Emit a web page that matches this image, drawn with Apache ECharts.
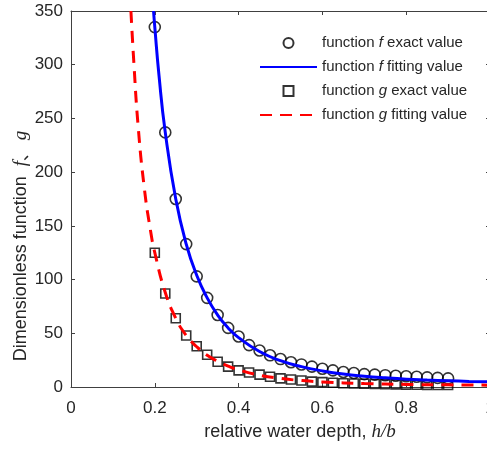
<!DOCTYPE html>
<html>
<head>
<meta charset="utf-8">
<title>f, g vs relative water depth</title>
<script src="https://cdn.jsdelivr.net/npm/echarts@6/dist/echarts.min.js"></script>
<style>
    html, body { margin: 0; padding: 0; background: #fff; }
    #chart { width: 487px; height: 449px; }
</style>
</head>
<body>
<div id="chart"></div>
<script>
    // exact values, h/b = 0.2 ... 0.9 step 0.025
    var xExact = [0.2, 0.225, 0.25, 0.275, 0.3, 0.325, 0.35, 0.375, 0.4, 0.425,
        0.45, 0.475, 0.5, 0.525, 0.55, 0.575, 0.6, 0.625, 0.65, 0.675,
        0.7, 0.725, 0.75, 0.775, 0.8, 0.825, 0.85, 0.875, 0.9];
    var fExact = [335, 237, 175, 133, 103, 83, 67, 55, 47, 39,
        34, 29.5, 26, 23, 21, 19, 17, 15.5, 14, 13,
        12, 11.5, 11, 10.5, 10, 9.5, 9, 8.5, 8];
    var gExact = [125, 87, 64, 48, 38, 30, 23.5, 19, 15.5, 13.5,
        11.5, 9.5, 8, 7, 6, 5, 4.5, 4, 3.5, 3.2,
        3, 2.8, 2.6, 2.4, 2.2, 2.1, 2, 1.9, 1.8];

    // fitted curves
    var xFitF = [0.197, 0.2, 0.21, 0.225, 0.25, 0.275, 0.3, 0.325, 0.35, 0.375,
        0.4, 0.45, 0.5, 0.55, 0.6, 0.65, 0.7, 0.75, 0.8, 0.85,
        0.9, 0.95, 1.0];
    var fFit = [350, 335, 290, 237, 175, 133, 104, 83, 67, 55,
        46, 33, 24.5, 19, 15, 12, 10, 8.5, 7.3, 6.5,
        5.8, 5.2, 4.8];
    var xFitG = [0.143, 0.15, 0.16, 0.175, 0.19, 0.2, 0.225, 0.25, 0.275, 0.3,
        0.325, 0.35, 0.375, 0.4, 0.45, 0.5, 0.55, 0.6, 0.7, 0.8,
        0.9, 1.0];
    var gFit = [350, 302, 244, 185, 145, 125, 88, 64, 48, 37.5,
        29.5, 24, 19.5, 16, 11, 8, 6, 4.7, 3.2, 2.4,
        2, 1.7];

    var legendNames = ['fExact', 'fFit', 'gExact', 'gFit'];
    var legendLabels = {
        fExact: '{a|function }{i|f}{a| exact value}',
        fFit: '{a|function }{i|f}{a| fitting value}',
        gExact: '{a|function }{i|g}{a| exact value}',
        gFit: '{a|function }{i|g}{a| fitting value}'
    };

    function pairs(xs, ys) {
        return xs.map(function (x, i) { return [x, ys[i]]; });
    }

    var TEXT = '#262626';
    var AXIS = '#404040';
    var FONT = 'Liberation Sans, Arial, sans-serif';
    var SERIF = 'Liberation Serif, Times New Roman, serif';

    var chart = echarts.init(document.getElementById('chart'));

    var axisCommon = {
        axisLine: { show: true, onZero: false, lineStyle: { color: AXIS, width: 1 } },
        axisTick: { show: true, inside: true, length: 4, lineStyle: { color: AXIS } },
        splitLine: { show: false }
    };

    chart.setOption({
        animation: false,
        backgroundColor: '#fff',
        grid: { left: 71, right: -3, top: 11, bottom: 62, containLabel: false, outerBoundsMode: 'none' },
        xAxis: [
            Object.assign({
                type: 'value', min: 0, max: 1, interval: 0.2, position: 'bottom',
                axisLabel: { color: TEXT, fontSize: 17, fontFamily: FONT, margin: 13 }
            }, axisCommon),
            Object.assign({
                type: 'value', min: 0, max: 1, interval: 0.2, position: 'top',
                axisLabel: { show: false }
            }, axisCommon)
        ],
        yAxis: [
            Object.assign({
                type: 'value', min: 0, max: 350, interval: 50, position: 'left',
                axisLabel: { color: TEXT, fontSize: 17, fontFamily: FONT, margin: 8 }
            }, axisCommon),
            Object.assign({
                type: 'value', min: 0, max: 350, interval: 50, position: 'right',
                axisLabel: { show: false }
            }, axisCommon)
        ],
        legend: {
            data: [
                { name: 'fExact', icon: 'circle' },
                { name: 'fFit', itemStyle: { opacity: 0 } },
                { name: 'gExact', icon: 'path://M0,0H10V10H0Z' },
                { name: 'gFit', itemStyle: { opacity: 0 } }
            ],
            orient: 'vertical',
            left: 259,
            top: 31,
            padding: 0,
            itemWidth: 57,
            itemHeight: 10,
            itemGap: 0,
            symbolKeepAspect: true,
            formatter: function (name) { return legendLabels[name]; },
            textStyle: {
                color: TEXT,
                lineHeight: 24,
                rich: {
                    a: { fontSize: 15, fontFamily: FONT, color: TEXT, lineHeight: 24 },
                    i: { fontSize: 15, fontFamily: FONT, fontStyle: 'italic', color: TEXT, lineHeight: 24 }
                }
            }
        },
        graphic: [
            {
                type: 'text',
                x: 300, y: 432,
                style: {
                    text: '{a|relative water depth, }{i|h/b}',
                    align: 'center',
                    verticalAlign: 'middle',
                    rich: {
                        a: { fontSize: 18, fontFamily: FONT, fill: TEXT },
                        i: { fontSize: 19, fontFamily: SERIF, fontStyle: 'italic', fill: TEXT }
                    }
                }
            },
            {
                type: 'text',
                x: 21, y: 246,
                rotation: Math.PI / 2,
                style: {
                    text: '{a|Dimensionless function  }{i|f}{c|、}{i| g}',
                    align: 'center',
                    verticalAlign: 'middle',
                    rich: {
                        a: { fontSize: 18, fontFamily: FONT, fill: TEXT },
                        i: { fontSize: 19, fontFamily: SERIF, fontStyle: 'italic', fill: TEXT },
                        c: { fontSize: 16, fontFamily: 'Noto Sans CJK SC', fill: TEXT }
                    }
                }
            }
        ],
        series: [
            {
                name: 'fExact',
                type: 'scatter',
                symbol: 'circle',
                symbolSize: 11,
                itemStyle: { color: 'rgba(0,0,0,0)', borderColor: '#000', borderWidth: 1.6 },
                data: pairs(xExact, fExact),
                z: 2
            },
            {
                name: 'fFit',
                type: 'line',
                symbol: 'none',
                smooth: true,
                lineStyle: { color: '#0000ff', width: 3 },
                itemStyle: { color: '#0000ff' },
                data: pairs(xFitF, fFit),
                z: 3
            },
            {
                name: 'gExact',
                type: 'scatter',
                symbol: 'rect',
                symbolSize: 9,
                itemStyle: { color: 'rgba(0,0,0,0)', borderColor: '#000', borderWidth: 1.6 },
                data: pairs(xExact, gExact),
                z: 2
            },
            {
                name: 'gFit',
                type: 'line',
                symbol: 'none',
                smooth: true,
                lineStyle: { color: '#ff0000', width: 3, type: [12, 8] },
                itemStyle: { color: '#ff0000' },
                data: pairs(xFitG, gFit),
                z: 3
            }
        ]
    });
</script>
</body>
</html>
